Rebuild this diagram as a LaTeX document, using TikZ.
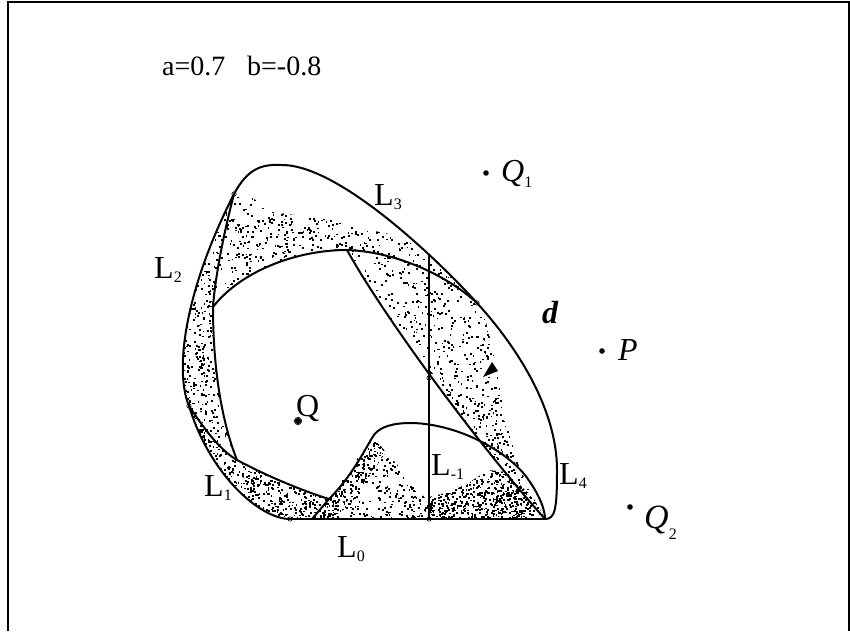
\documentclass[tikz,border=0pt]{standalone}
\usepackage{fontspec}
\setmainfont{Liberation Serif}
\newcommand\sbs[2][4pt]{\raisebox{-#1}{\fontsize{16}{16}\selectfont #2}}
\newcommand\dotbox[5]{\foreach \i in {1,...,#5}{\fill ({#1+rnd*#3},{#2+rnd*#4}) rectangle ++(1.8,1.8);}}
\begin{document}
\begin{tikzpicture}[x=1pt,y=-1pt,
  curve/.style={line width=2pt, line join=round},
  ring/.style={line width=0.6pt},
  lab/.style={font=\fontsize{32}{34}\selectfont, inner sep=0pt, anchor=base west}]
\useasboundingbox (0,0) rectangle (850,631);
% frame
\draw[line width=1.8pt] (8,631) -- (8,2) -- (849,2) -- (849,631);
% key points
\coordinate (A) at (290,519);
\coordinate (B) at (189,406);
\coordinate (C) at (234,194);
\coordinate (D) at (282,165);
\coordinate (E) at (477,303);
\coordinate (F) at (557,470);
\coordinate (G) at (545,519);
\coordinate (H) at (213,307);
\coordinate (I) at (347,250);
\coordinate (J) at (237,460);
\coordinate (K) at (329,499);
\coordinate (M) at (429,519);
\coordinate (N) at (429,378);
\coordinate (V) at (429,255);
\coordinate (T) at (410,423);
\coordinate (S) at (372,438);
\pgfmathsetseed{4711}
% ---------- scattered points ----------
% lower-left band
\begin{scope}
\clip (B) .. controls (210,475) and (260,519) .. (A) -- (312,519) -- (K)
  .. controls (300,490) and (265,475) .. (J) .. controls (220,450) and (205,430) .. (B) -- cycle;
\dotbox{185}{400}{150}{122}{1500}
\end{scope}
% left band
\begin{scope}
\clip (B) .. controls (174,370) and (185,290) .. (C) .. controls (222,240) and (215,280) .. (H)
  .. controls (213,380) and (225,430) .. (J) .. controls (220,450) and (205,430) .. (B) -- cycle;
\dotbox{178}{190}{62}{275}{850}
\end{scope}
% top band
\begin{scope}
\clip (C) -- (250,196) -- (272,212) -- (303,216) -- (337,221) -- (370,230) -- (403,237)
  -- (425,255) -- (450,276) -- (E) .. controls (450,278) and (400,252) .. (I)
  .. controls (295,250) and (240,272) .. (H) .. controls (215,280) and (222,240) .. (C) -- cycle;
\dotbox{210}{190}{130}{120}{600}
\dotbox{340}{215}{140}{95}{450}
\end{scope}
% right band
\begin{scope}
\clip (I) .. controls (380,310) and (470,435) .. (G) -- (530,492) -- (516,458) -- (506,420)
  -- (499,385) -- (493,350) -- (486,322) -- (E) .. controls (450,278) and (400,252) .. (I) -- cycle;
\dotbox{345}{250}{155}{150}{600}
\dotbox{430}{400}{115}{120}{650}
\end{scope}
% hump flank
\begin{scope}
\clip (312,519) -- (K) .. controls (350,478) and (362,455) .. (S) -- (386,452) -- (350,505) -- (330,519) -- cycle;
\dotbox{310}{435}{80}{85}{500}
\end{scope}
% under the hump
\begin{scope}
\clip (K) -- (S) -- (382,447) -- (402,470) -- (418,490) -- (429,502) -- (M) -- (312,519) -- cycle;
\dotbox{310}{435}{120}{85}{380}
\end{scope}
% bottom right
\begin{scope}
\clip (M) -- (429,497) -- (450,492) -- (470,482) -- (488,470) -- (505,472) -- (520,485)
  -- (535,500) -- (G) -- cycle;
\dotbox{429}{465}{116}{55}{800}
\end{scope}
% ---------- curves ----------
% outer boundary L1 L2 L3 L4
\draw[curve] (A) .. controls (260,519) and (210,475) .. (B)
  .. controls (174,370) and (185,290) .. (C)
  .. controls (248,168) and (262,164) .. (D)
  .. controls (340,165) and (440,262) .. (E)
  .. controls (518,348) and (557,410) .. (F)
  .. controls (557,510) and (555,519) .. (G);
% L0
\draw[curve] (A) -- (G);
% inner arc
\draw[curve] (H) .. controls (240,272) and (295,250) .. (I)
  .. controls (400,252) and (450,278) .. (E);
% inner left line
\draw[curve] (C) .. controls (222,240) and (215,280) .. (H)
  .. controls (213,380) and (225,430) .. (J);
\draw[curve] (B) .. controls (205,430) and (220,450) .. (J)
  .. controls (265,475) and (300,490) .. (K);
% hump
\draw[curve] (312,519) -- (K) .. controls (350,478) and (362,455) .. (S)
  .. controls (378,426) and (395,423) .. (T)
  .. controls (450,423) and (500,445) .. (525,475)
  .. controls (540,495) and (545,510) .. (G);
% slanted line
\draw[curve] (I) .. controls (380,310) and (470,435) .. (G);
% L_{-1} vertical
\draw[curve] (M) -- (V);
% small markers
\foreach \p in {A,B,C,E,M,N}{\draw[ring] (\p) circle (2.2);}
% arrowhead
\fill (483,377) -- (492,362) -- (498,371) -- cycle;
% points
\fill (486,173) circle (2.8);
\fill (602,351) circle (2.8);
\fill (630,507) circle (2.8);
\fill (298,421) circle (3.2);
\draw[line width=0.6pt] (298,421) circle (3.8);
% labels
\node[lab, font=\fontsize{28}{30}\selectfont] (ta) at (162,76) {a=0.7};
\node[lab, font=\fontsize{28}{30}\selectfont] (tb) at (247,76) {b=-0.8};
\node[lab] (l3) at (374,205) {L\sbs{3}};
\node[lab] (l2) at (154,278) {L\sbs{2}};
\node[lab] (l1) at (204,496) {L\sbs{1}};
\node[lab] (l0) at (337,557) {L\sbs{0}};
\node[lab] (lm) at (431,475) {L\sbs{-1}};
\node[lab] (l4) at (559,484) {L\sbs{4}};
\node[lab] (q) at (296,416) {Q};
\node[lab] (q1) at (501,181) {\textit{Q}\sbs[6pt]{1}};
\node[lab] (pp) at (618,360) {\textit{P}};
\node[lab, font=\fontsize{34}{36}\selectfont] (q2) at (644,528) {\textit{Q}\sbs[11pt]{2}};
\node[lab] (dd) at (542,323) {\textbf{\textit{d}}};
\end{tikzpicture}
\end{document}
